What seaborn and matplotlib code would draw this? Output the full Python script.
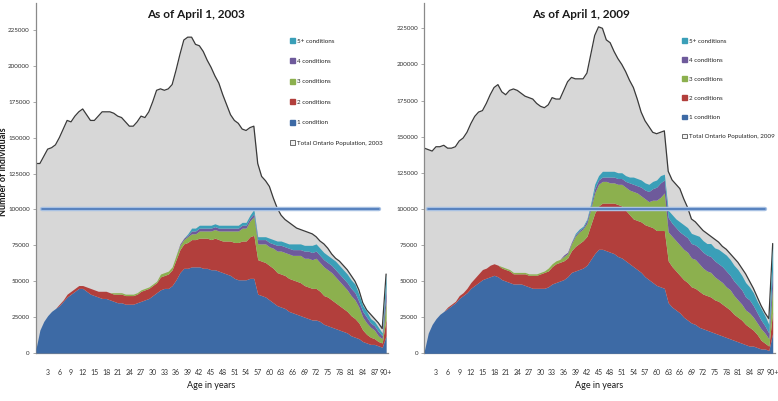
import matplotlib
matplotlib.use("Agg")
import numpy as np
import pandas as pd
import matplotlib.pyplot as plt
from matplotlib.patches import Patch
import seaborn as sns

# ---- data (thousands of people by single year of age, last category = 90+) ----
ages = list(range(91))
tick_ages = list(range(3, 91, 3))
tick_labels = [str(a) for a in range(3, 90, 3)] + ["90+"]
y_ticks = [0, 25000, 50000, 75000, 100000, 125000, 150000, 175000, 200000, 225000]
threshold = 100000

layer_names = ["1 condition", "2 conditions", "3 conditions", "4 conditions", "5+ conditions"]
layer_colors = ["#3d6aa5", "#b23f3c", "#8cb04e", "#6e5a9b", "#3a9fb8"]

total_2003 = [132, 132, 137, 142, 143, 145, 150, 156, 162, 161,
              165, 168, 170, 166, 162, 162, 165, 168, 168, 168,
              167, 165, 164, 161, 158, 158, 161, 165, 164, 168,
              175, 183, 184, 183, 184, 187, 197, 208, 218, 220,
              220, 215, 214, 210, 204, 199, 193, 188, 180, 173,
              166, 162, 160, 156, 155, 157, 158, 132, 123, 120,
              116, 108, 101, 96, 93, 91, 89, 87, 86, 85,
              84, 83, 81, 78, 76, 73, 69, 66, 64, 61,
              58, 54, 50, 44, 35, 30, 27, 24, 21, 17,
              55]
c1_2003 = [3, 16, 22, 26, 29, 31, 33, 36, 39, 41,
           43, 45, 45, 43, 41, 40, 39, 38, 38, 37,
           36, 35, 35, 34, 34, 34, 35, 36, 37, 38,
           40, 42, 44, 45, 45, 47, 51, 56, 59, 59,
           60, 60, 60, 59, 59, 58, 58, 57, 56, 55,
           54, 52, 51, 51, 51, 52, 52, 41, 40, 39,
           37, 35, 33, 32, 31, 29, 28, 27, 26, 25,
           24, 23, 23, 22, 20, 19, 18, 17, 16, 15,
           14, 12, 11, 10, 8, 7, 6, 6, 5, 4,
           12]
c2_2003 = [0, 0, 0, 0, 0, 0, 1, 1, 2, 2,
           2, 2, 2, 3, 4, 4, 4, 5, 5, 5,
           5, 6, 6, 6, 6, 6, 6, 7, 7, 7,
           7, 7, 9, 9, 10, 11, 14, 16, 17, 18,
           19, 19, 20, 21, 21, 21, 22, 22, 22, 23,
           24, 25, 26, 27, 27, 29, 30, 24, 24, 24,
           24, 24, 23, 23, 23, 23, 23, 23, 23, 22,
           22, 22, 22, 21, 20, 20, 19, 18, 17, 16,
           15, 14, 13, 11, 8, 6, 5, 4, 3, 3,
           12]
c3_2003 = [0, 0, 0, 0, 0, 0, 0, 0, 0, 0,
           0, 0, 0, 0, 0, 0, 0, 0, 0, 0,
           1, 1, 1, 1, 1, 1, 1, 1, 1, 1,
           1, 1, 2, 2, 2, 2, 3, 3, 3, 4,
           4, 4, 5, 5, 5, 6, 6, 6, 7, 7,
           7, 8, 8, 9, 9, 11, 13, 11, 12, 13,
           13, 14, 15, 16, 16, 17, 17, 18, 19, 19,
           20, 20, 21, 20, 20, 19, 19, 18, 17, 16,
           15, 14, 13, 11, 9, 8, 7, 6, 4, 3,
           12]
c4_2003 = [0, 0, 0, 0, 0, 0, 0, 0, 0, 0,
           0, 0, 0, 0, 0, 0, 0, 0, 0, 0,
           0, 0, 0, 0, 0, 0, 0, 0, 0, 0,
           0, 0, 0, 0, 0, 0, 0, 1, 1, 1,
           2, 2, 2, 2, 2, 2, 2, 2, 2, 2,
           2, 2, 2, 2, 2, 2, 2, 3, 3, 3,
           3, 3, 4, 4, 4, 4, 4, 4, 4, 5,
           5, 5, 5, 5, 5, 5, 5, 5, 5, 5,
           5, 5, 5, 4, 4, 4, 3, 3, 3, 2,
           9]
c5_2003 = [0, 0, 0, 0, 0, 0, 0, 0, 0, 0,
           0, 0, 0, 0, 0, 0, 0, 0, 0, 0,
           0, 0, 0, 0, 0, 0, 0, 0, 0, 0,
           0, 0, 0, 0, 0, 0, 0, 0, 0, 1,
           2, 2, 2, 2, 2, 2, 2, 2, 2, 2,
           2, 2, 2, 2, 2, 2, 3, 2, 2, 2,
           3, 3, 3, 3, 3, 3, 4, 4, 4, 4,
           4, 5, 5, 5, 5, 5, 5, 6, 6, 6,
           6, 6, 6, 5, 4, 4, 3, 3, 3, 2,
           10]

total_2009 = [142, 141, 140, 143, 143, 144, 142, 142, 143, 147,
              149, 153, 159, 164, 167, 168, 173, 179, 184, 186,
              181, 179, 182, 183, 182, 180, 178, 177, 176, 173,
              171, 170, 172, 177, 176, 176, 182, 188, 191, 190,
              190, 190, 194, 207, 220, 226, 225, 217, 215, 209,
              204, 200, 195, 189, 184, 176, 167, 161, 157, 153,
              152, 153, 154, 126, 120, 117, 114, 107, 101, 93,
              91, 88, 85, 83, 81, 79, 77, 74, 72, 69,
              66, 63, 59, 55, 50, 45, 39, 33, 28, 24,
              76]
c1_2009 = [2, 14, 20, 24, 27, 29, 31, 33, 35, 38,
           40, 42, 45, 47, 49, 51, 52, 53, 54, 53,
           51, 50, 49, 48, 48, 48, 47, 46, 45, 45,
           45, 45, 46, 48, 49, 50, 51, 53, 56, 57,
           58, 59, 61, 65, 69, 72, 72, 71, 70, 69,
           67, 66, 64, 62, 60, 58, 56, 53, 51, 49,
           47, 46, 45, 35, 32, 30, 28, 25, 23, 21,
           20, 18, 17, 16, 15, 14, 13, 12, 11, 10,
           9, 8, 7, 6, 5, 5, 4, 3, 3, 2,
           14]
c2_2009 = [0, 0, 0, 0, 0, 0, 1, 1, 1, 2,
           2, 3, 4, 5, 6, 7, 7, 8, 8, 8,
           8, 8, 8, 7, 7, 7, 8, 8, 9, 9,
           10, 11, 11, 12, 13, 13, 13, 13, 15, 17,
           18, 19, 20, 24, 28, 30, 32, 33, 34, 35,
           36, 36, 35, 34, 33, 34, 35, 36, 37, 38,
           38, 39, 40, 29, 28, 27, 26, 26, 26, 25,
           25, 25, 24, 24, 24, 23, 23, 22, 21, 20,
           18, 17, 16, 14, 13, 11, 9, 6, 4, 3,
           15]
c3_2009 = [0, 0, 0, 0, 0, 0, 0, 0, 0, 0,
           0, 0, 0, 0, 0, 0, 0, 0, 0, 0,
           1, 1, 1, 1, 1, 1, 1, 1, 1, 1,
           1, 1, 2, 2, 2, 2, 3, 3, 5, 7,
           8, 8, 9, 11, 14, 15, 15, 15, 14, 14,
           14, 15, 16, 17, 19, 19, 18, 18, 17, 19,
           21, 23, 26, 20, 21, 21, 21, 21, 21, 20,
           20, 19, 18, 17, 17, 16, 15, 15, 14, 14,
           13, 12, 11, 10, 10, 9, 8, 8, 7, 5,
           18]
c4_2009 = [0, 0, 0, 0, 0, 0, 0, 0, 0, 0,
           0, 0, 0, 0, 0, 0, 0, 0, 0, 0,
           0, 0, 0, 0, 0, 0, 0, 0, 0, 0,
           0, 0, 0, 0, 0, 0, 1, 1, 1, 1,
           1, 1, 2, 2, 3, 3, 3, 3, 4, 4,
           4, 4, 4, 5, 5, 5, 6, 6, 7, 8,
           9, 10, 9, 10, 9, 9, 9, 10, 10, 10,
           10, 11, 11, 11, 11, 11, 11, 11, 11, 10,
           10, 10, 10, 9, 9, 8, 7, 6, 5, 4,
           12]
c5_2009 = [0, 0, 0, 0, 0, 0, 0, 0, 0, 0,
           0, 0, 0, 0, 0, 0, 0, 0, 0, 0,
           0, 0, 0, 0, 0, 0, 0, 0, 0, 0,
           0, 0, 0, 0, 0, 0, 0, 0, 0, 1,
           1, 1, 1, 2, 3, 3, 4, 4, 4, 4,
           4, 4, 4, 4, 5, 5, 5, 5, 5, 5,
           5, 5, 4, 5, 6, 6, 7, 7, 7, 7,
           7, 8, 8, 8, 9, 9, 10, 10, 11, 11,
           11, 11, 10, 10, 9, 9, 8, 8, 7, 6,
           17]

panels = [
    ("As of April 1, 2003", "Total Ontario Population, 2003", total_2003,
     [c1_2003, c2_2003, c3_2003, c4_2003, c5_2003]),
    ("As of April 1, 2009", "Total Ontario Population, 2009", total_2009,
     [c1_2009, c2_2009, c3_2009, c4_2009, c5_2009]),
]

# ---- style ----
sns.set_theme(style="white")
plt.rcParams["font.family"] = ["Lato", "DejaVu Sans"]
W, H = 778, 401

fig = plt.figure(figsize=(W / 100, H / 100), dpi=100)
# axes boxes in pixels: (left, bottom-from-top, width, height, ymax)
boxes = [(36, 353, 352, 350, 243800), (424.4, 353.3, 350.6, 350.3, 242500)]
title_x = [196, 581]
xlabel_x = [211, 599]
legend_x = [290, 682]
legend_gap = [2.38, 2.17]
line_span = [(0.016, 0.975), (0.010, 0.971)]

for i, (title, total_label, total, layers) in enumerate(panels):
    left, bottom, width, height, ymax = boxes[i]
    ax = fig.add_axes([left / W, (H - bottom) / H, width / W, height / H])

    tot = np.array(total) * 1000
    stack = [np.array(l) * 1000 for l in layers]

    ax.fill_between(ages, 0, tot, color="#d7d7d7", lw=0, zorder=1)
    sns.lineplot(x=ages, y=tot, ax=ax, color="#3a3a3a", lw=0.9, zorder=2)
    ax.stackplot(ages, *stack, colors=layer_colors, lw=0, zorder=3)

    xmin_f, xmax_f = line_span[i]
    ax.axhline(threshold, xmin=xmin_f, xmax=xmax_f, color="#a8c1e3", lw=3.2, zorder=4)
    ax.axhline(threshold, xmin=xmin_f, xmax=xmax_f, color="#4a77b8", lw=1.2, zorder=5)

    ax.set_xlim(0, width / (3.89 if i == 0 else 3.87))
    ax.set_ylim(0, ymax)
    ax.set_xticks(tick_ages)
    ax.set_xticklabels(tick_labels, fontsize=5, color="#333333")
    ax.set_xticks(ages, minor=True)
    ax.set_yticks(y_ticks)
    ax.set_yticklabels([str(v) for v in y_ticks], fontsize=4.5, color="#333333")
    ax.tick_params(axis="x", which="major", length=0, pad=11.5)
    ax.tick_params(axis="x", which="minor", length=2, width=0.5, color="#9a9a9a", direction="out")
    ax.tick_params(axis="y", length=2.5, width=0.6, color="#9a9a9a", pad=2, left=True)
    for s in ["top", "right"]:
        ax.spines[s].set_visible(False)
    for s in ["left", "bottom"]:
        ax.spines[s].set_color("#8a8a8a")
        ax.spines[s].set_linewidth(0.9)
    ax.set_xlabel("")
    ax.set_ylabel("")
    ax.set_facecolor("white")

    fig.text(title_x[i] / W, 1 - 15 / H, title, ha="center", va="center",
             fontsize=8.5, fontweight="bold", color="#1a1a1a")
    fig.text(xlabel_x[i] / W, 1 - 385 / H, "Age in years", ha="center", va="center",
             fontsize=6.5, color="#1a1a1a")

    handles = [Patch(facecolor=c, edgecolor=c) for c in layer_colors[::-1]]
    handles.append(Patch(facecolor="#f2f2f2", edgecolor="#555555", lw=0.6))
    labels = layer_names[::-1] + [total_label]
    ax.legend(handles, labels, loc="upper left",
              bbox_to_anchor=(legend_x[i] / W, 1 - 38 / H), bbox_transform=fig.transFigure,
              frameon=False, fontsize=4.5, handlelength=0.8, handleheight=0.8,
              handletextpad=0.35, borderpad=0, borderaxespad=0,
              labelspacing=legend_gap[i])

fig.text(3.8 / W, 1 - 172 / H, "Number of individuals", rotation=90, ha="center", va="center",
         fontsize=6.5, fontweight="bold", color="#1a1a1a")

fig.savefig("out.png", dpi=100, facecolor="white")
